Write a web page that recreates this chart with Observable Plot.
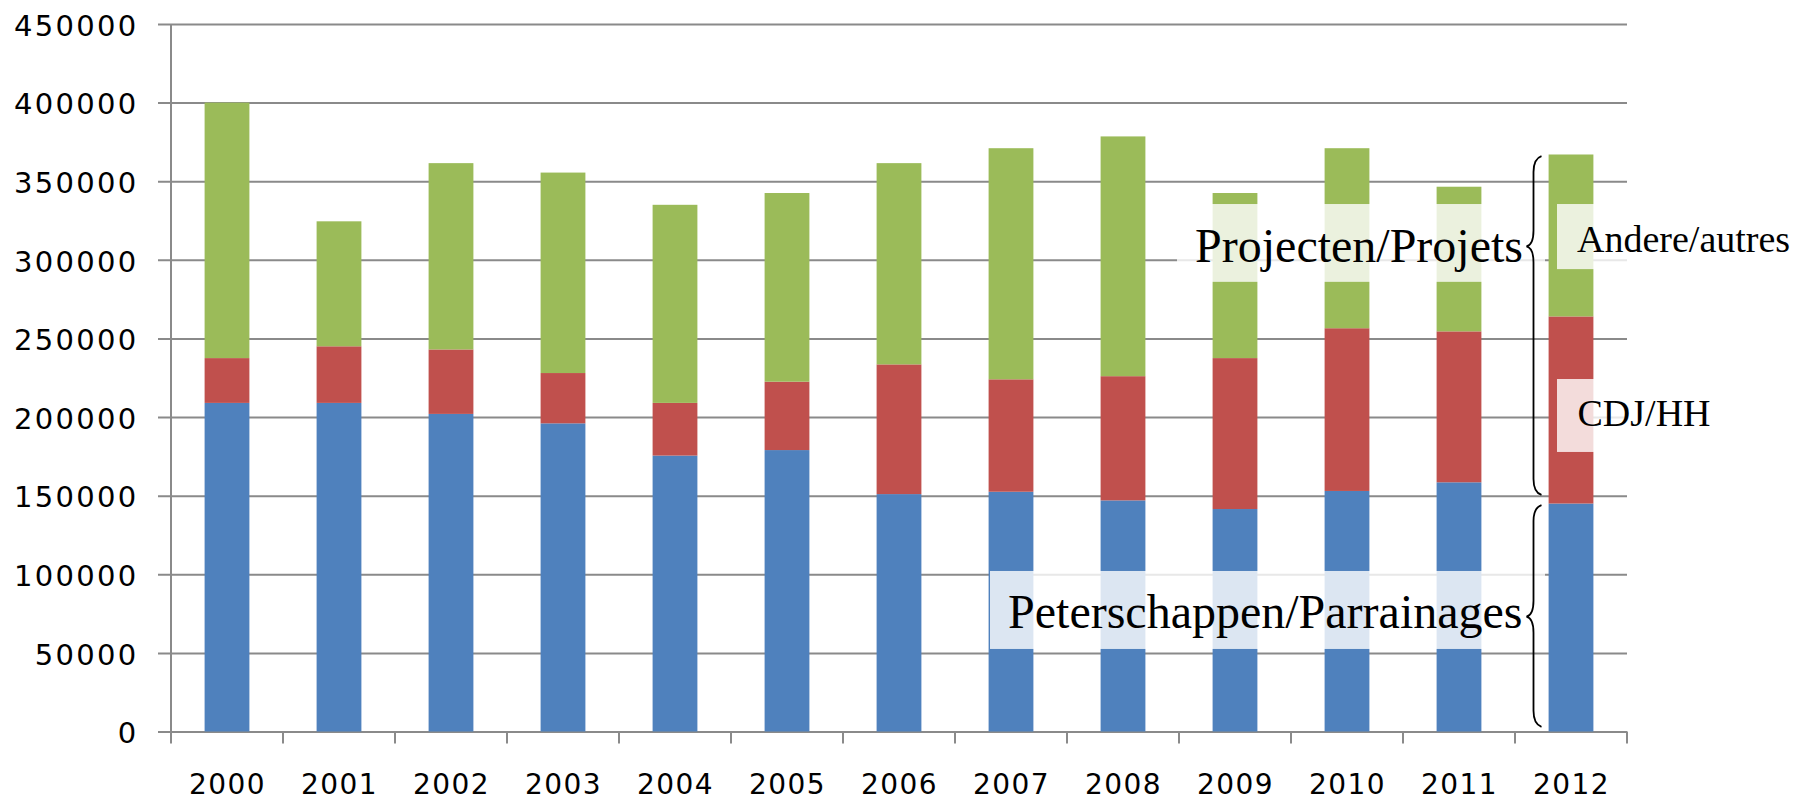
<!DOCTYPE html>
<html>
<head>
<meta charset="utf-8">
<script src="https://cdn.jsdelivr.net/npm/d3@7"></script>
<script src="https://cdn.jsdelivr.net/npm/@observablehq/plot@0.6"></script>
<style>
  html, body { margin: 0; padding: 0; background: #fff; }
  svg { display: block; }
  [aria-label="y-axis tick label"] text { letter-spacing: 2.3px; }
  [aria-label="x-axis tick label"] text { letter-spacing: 1.5px; }
</style>
</head>
<body>
<div id="chart"></div>
<script>
// ---- data ----
const years = ["2000","2001","2002","2003","2004","2005","2006","2007","2008","2009","2010","2011","2012"];
const seriesNames = ["Peterschappen/Parrainages", "CDJ/HH", "Andere/autres"];
const peterschappen = [209000, 209000, 202000, 196000, 175500, 179000, 151000, 152500, 147000, 141500, 153000, 158500, 145000];
const cdjhh         = [28500, 36000, 41000, 32000, 33500, 43500, 82500, 71500, 79000, 96000, 103500, 96000, 119000];
const andere        = [162500, 79500, 118500, 127500, 126000, 120000, 128000, 147000, 152500, 105000, 114500, 92000, 103000];
const yTicks = [0, 50000, 100000, 150000, 200000, 250000, 300000, 350000, 400000, 450000];
const seriesColors = ["#4F81BD", "#C0504D", "#9BBB59"];
const annotationTexts = ["Projecten/Projets", "Peterschappen/Parrainages", "Andere/autres", "CDJ/HH"];
// brace extents in data units: [top, cusp, bottom]
const braceProjects = [366000, 308500, 150500];
const braceSponsor  = [144000, 73000, 3000];

// ---- table for the library ----
const seriesValues = [peterschappen, cdjhh, andere];
const rows = [];
years.forEach((year, i) => {
  seriesNames.forEach((s, k) => rows.push({year, series: s, value: seriesValues[k][i]}));
});

const gridColor = "#8a8a8a";

function bracePath(x0, yTop, yCusp, yBot) {
  const r = 16;
  return `M${x0 + 8},${yTop} C${x0 + 2},${yTop + 2} ${x0},${yTop + 8} ${x0},${yTop + r}` +
         ` L${x0},${yCusp - r} C${x0},${yCusp - 6} ${x0 - 3},${yCusp - 1} ${x0 - 7},${yCusp}` +
         ` C${x0 - 3},${yCusp + 1} ${x0},${yCusp + 6} ${x0},${yCusp + r}` +
         ` L${x0},${yBot - r} C${x0},${yBot - 8} ${x0 + 2},${yBot - 2} ${x0 + 8},${yBot}`;
}

function overlay(index, scales, values, dimensions) {
  const sy = scales.y;
  const {width, marginLeft, marginRight} = dimensions;
  const step = (width - marginLeft - marginRight) / years.length;
  const bandStart = i => marginLeft + i * step;
  const g = d3.create("svg:g");

  // axis lines & boundary ticks
  const y0 = sy(0);
  const yTop = sy(yTicks[yTicks.length - 1]);
  g.append("line").attr("x1", bandStart(0)).attr("x2", bandStart(0))
    .attr("y1", yTop).attr("y2", y0 + 12).attr("stroke", gridColor).attr("stroke-width", 2);
  for (let i = 1; i <= years.length; i++) {
    g.append("line").attr("x1", bandStart(i)).attr("x2", bandStart(i))
      .attr("y1", y0).attr("y2", y0 + 12).attr("stroke", gridColor).attr("stroke-width", 2);
  }

  const b = bandStart(years.length - 1); // start of the 2012 band
  const box = (x1, x2, v1, v2) => g.append("rect")
    .attr("x", x1).attr("width", x2 - x1)
    .attr("y", sy(v1)).attr("height", sy(v2) - sy(v1))
    .attr("fill", "white").attr("fill-opacity", 0.8);
  const label = (txt, x, v, size, anchor) => g.append("text")
    .attr("x", x).attr("y", sy(v))
    .attr("font-family", "Liberation Serif, Times New Roman, serif")
    .attr("font-size", size).attr("text-anchor", anchor).attr("fill", "#000")
    .text(txt);

  // Projecten/Projets
  box(b - 338, b + 30, 335500, 286000);
  label(annotationTexts[0], b + 8, 298800, 48, "end");
  // Peterschappen/Parrainages
  box(b - 525, b + 30, 102100, 52500);
  label(annotationTexts[1], b + 7.5, 65800, 48, "end");
  // Andere/autres
  box(b + 42, b + 282, 335500, 294100);
  label(annotationTexts[2], b + 62, 305200, 38, "start");
  // CDJ/HH
  box(b + 42, b + 210, 224200, 177800);
  label(annotationTexts[3], b + 62.5, 194300, 38, "start");

  // braces
  const xs = b + 18.5;
  for (const br of [braceProjects, braceSponsor]) {
    g.append("path").attr("d", bracePath(xs, sy(br[0]), sy(br[1]), sy(br[2])))
      .attr("fill", "none").attr("stroke", "#000").attr("stroke-width", 1.8);
  }
  return g.node();
}

const chart = Plot.plot({
  width: 1809,
  height: 802,
  marginLeft: 171,
  marginRight: 182,
  marginTop: 24,
  marginBottom: 70.5,
  style: {fontFamily: "DejaVu Sans, sans-serif", background: "white", color: "#000"},
  x: {domain: years, padding: 0, label: null},
  y: {domain: [0, 450000], label: null},
  color: {domain: seriesNames, range: seriesColors},
  marks: [
    Plot.ruleY(yTicks, {stroke: gridColor, strokeWidth: 2, insetLeft: -13}),
    Plot.barY(rows, {x: "year", y: "value", fill: "series", insetLeft: 33.6, insetRight: 33.6}),
    Plot.axisY({ticks: yTicks, tickFormat: d => String(d), tickSize: 0, tickPadding: 33, fontSize: 29, dy: 2, label: null}),
    Plot.axisX({tickSize: 0, tickPadding: 42.5, fontSize: 28, label: null}),
    overlay
  ]
});
document.getElementById("chart").appendChild(chart);
</script>
</body>
</html>
